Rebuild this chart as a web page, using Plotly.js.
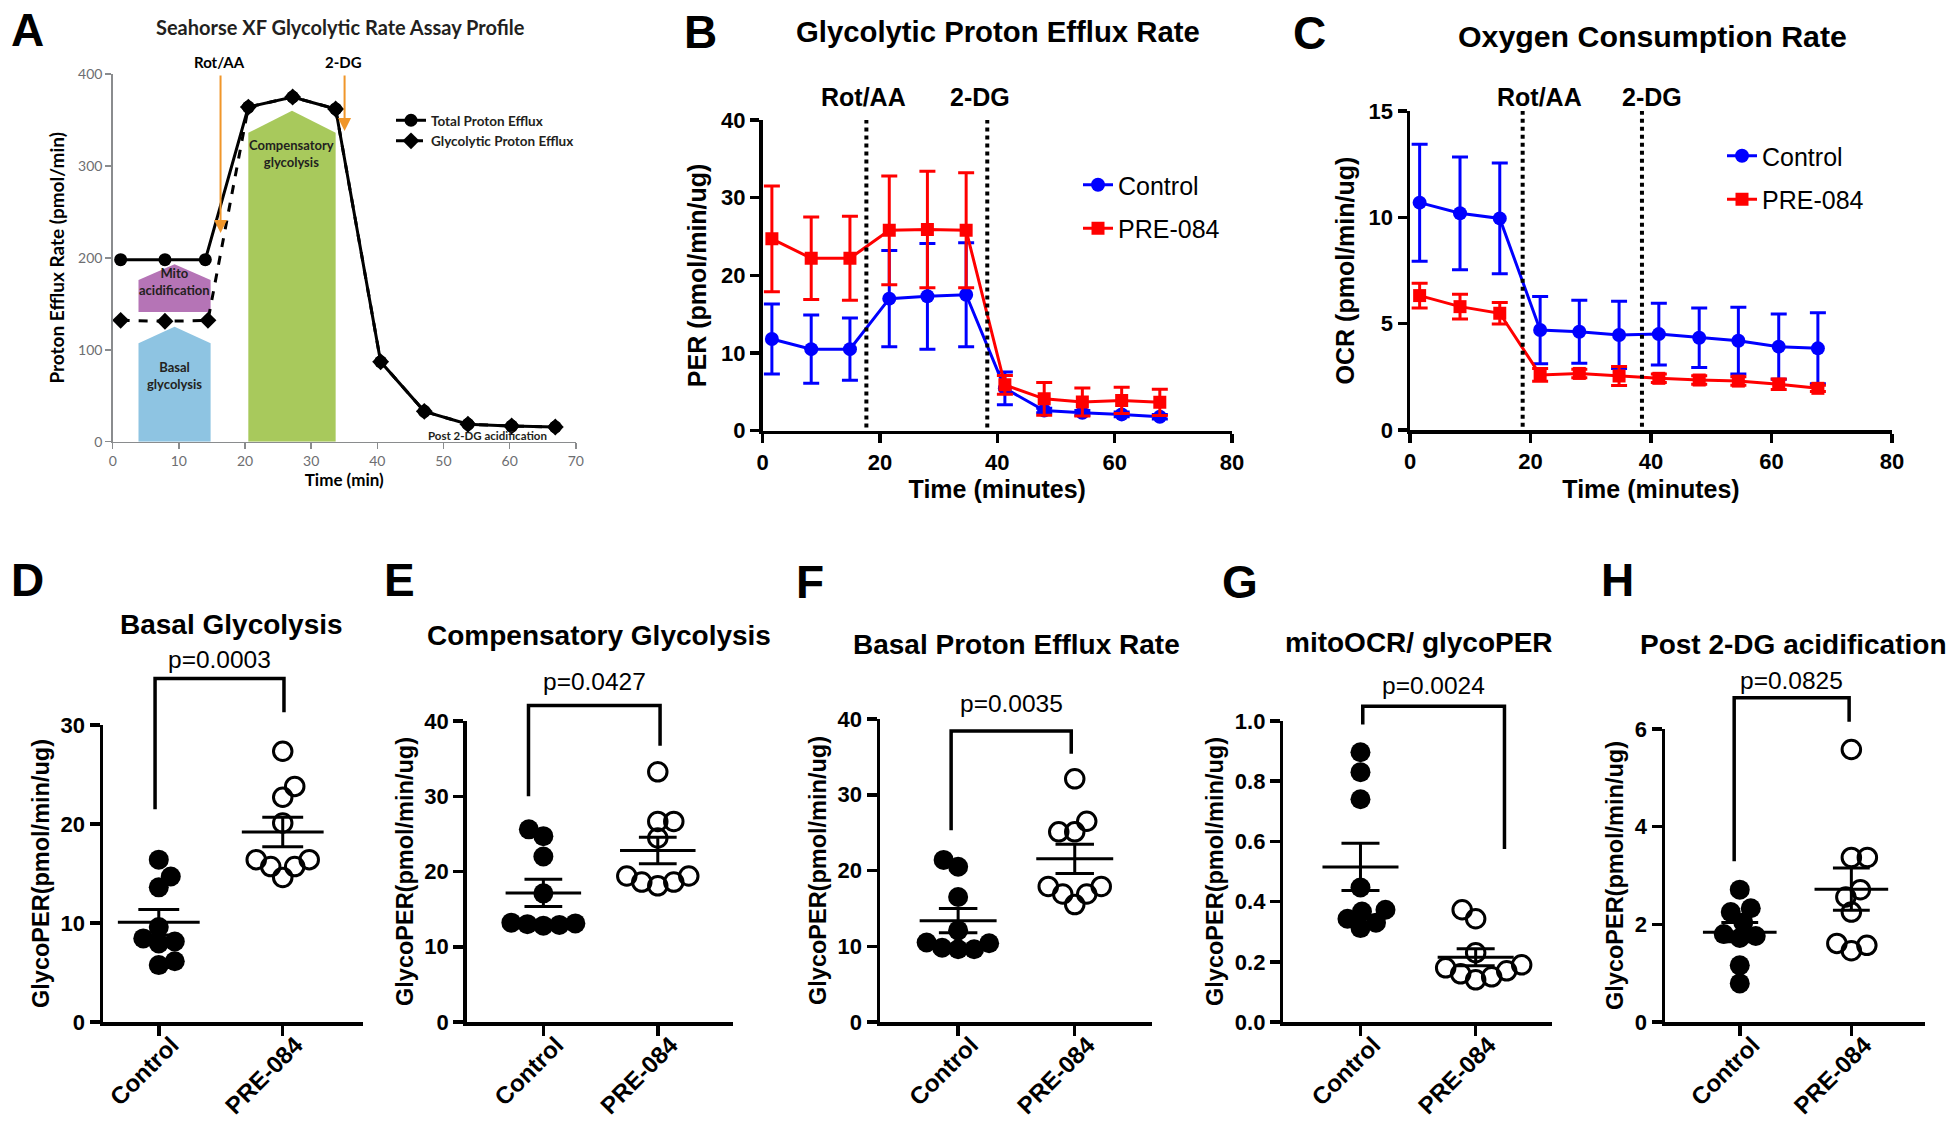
<!DOCTYPE html>
<html><head><meta charset="utf-8">
<script src="https://cdn.plot.ly/plotly-3.0.1.min.js"></script>
<style>html,body{margin:0;padding:0;background:#fff;}#chart{width:1950px;height:1126px;}</style>
</head><body><div id="chart"></div>
<script>
// ================= DATA =================
// Panel A – schematic assay profile
const aTime = [1.2, 7.9, 14.0, 20.5, 27.2, 33.7, 40.5, 47.1, 53.7, 60.3, 66.9];
const aTotal = [198, 198, 198, 364, 375, 362, 87, 33, 19, 17, 16];
const aGlycoTime = [1.2, 7.9, 14.4, 20.5, 27.2, 33.7, 40.5, 47.1, 53.7, 60.3, 66.9];
const aGlyco = [132, 131, 132, 364, 375, 362, 87, 33, 19, 17, 16];
const aSeriesNames = ['Total Proton Efflux', 'Glycolytic Proton Efflux'];
const injectionLabels = ['Rot/AA', '2-DG'];
const aInjectionTimes = [16.3, 35.05];
const aRegionNames = ['Mito<br>acidification', 'Basal<br>glycolysis', 'Compensatory<br>glycolysis'];
const aRegionStart = [3.9, 3.9, 20.5];
const aRegionEnd = [14.8, 14.8, 33.7];
const aRegionBase = [141, 0, 0];
const aRegionShoulder = [176, 107, 336];
const aRegionPeak = [193, 125, 360];
const aPostLabel = 'Post 2-DG acidification';

// Panels B & C – time courses
const groupNames = ['Control', 'PRE-084'];
const timeMin = [1.6, 8.3, 14.9, 21.6, 28.1, 34.7, 41.3, 48.0, 54.5, 61.2, 67.7];
const perControl = [11.8, 10.5, 10.5, 17.0, 17.3, 17.5, 5.45, 2.6, 2.3, 2.1, 1.8];
const perControlErr = [4.5, 4.4, 4.0, 6.2, 6.8, 6.7, 2.1, 0.3, 0.3, 0.3, 0.3];
const perPre = [24.7, 22.2, 22.2, 25.8, 25.9, 25.8, 5.9, 4.1, 3.7, 3.9, 3.65];
const perPreErr = [6.8, 5.3, 5.4, 7.0, 7.5, 7.4, 1.2, 2.1, 1.8, 1.7, 1.7];
const ocrControl = [10.69, 10.19, 9.95, 4.70, 4.62, 4.47, 4.51, 4.34, 4.20, 3.92, 3.84];
const ocrControlErr = [2.75, 2.65, 2.6, 1.58, 1.48, 1.58, 1.45, 1.4, 1.57, 1.53, 1.67];
const ocrPre = [6.32, 5.80, 5.49, 2.59, 2.66, 2.54, 2.43, 2.35, 2.30, 2.15, 1.96];
const ocrPreErr = [0.58, 0.58, 0.5, 0.3, 0.2, 0.45, 0.2, 0.2, 0.2, 0.25, 0.15];
const perInjectionTimes = [17.7, 38.3];
const ocrInjectionTimes = [18.7, 38.5];

// Panels D–H – individual values
const basalGlycoControl = [16.4, 14.7, 13.6, 9.6, 8.44, 8.13, 7.94, 6.14, 5.75];
const basalGlycoPre = [27.35, 23.8, 22.7, 20.1, 16.4, 16.4, 15.7, 15.7, 14.6];
const compGlycoControl = [25.6, 24.7, 22.0, 17.1, 13.2, 13.0, 12.9, 13.1, 12.8];
const compGlycoPre = [33.25, 26.65, 26.65, 24.45, 19.4, 19.4, 18.6, 18.1, 18.6];
const basalPerControl = [21.4, 20.5, 16.5, 12.1, 10.5, 10.4, 9.6, 9.6, 9.8];
const basalPerPre = [32.1, 26.5, 25.1, 25.1, 17.9, 17.9, 16.9, 16.9, 15.5];
const ratioControl = [0.896, 0.83, 0.74, 0.447, 0.373, 0.367, 0.343, 0.33, 0.312];
const ratioPre = [0.373, 0.343, 0.23, 0.19, 0.18, 0.17, 0.16, 0.15, 0.14];
const post2dgControl = [2.71, 2.33, 2.25, 2.04, 1.8, 1.76, 1.72, 1.16, 0.79];
const post2dgPre = [5.58, 3.37, 3.37, 2.71, 2.56, 2.25, 1.61, 1.57, 1.46];
const scatterTitles = ['Basal Glycolysis', 'Compensatory Glycolysis', 'Basal Proton Efflux Rate', 'mitoOCR/ glycoPER', 'Post 2-DG acidification'];
const pValues = ['p=0.0003', 'p=0.0427', 'p=0.0035', 'p=0.0024', 'p=0.0825'];
const panelLetters = ['A', 'B', 'C', 'D', 'E', 'F', 'G', 'H'];

// ================= LAYOUT HELPERS =================
const W = 1950, H = 1126;
const FONT = 'Liberation Sans, Arial, Helvetica, sans-serif';
const AFONT = 'Lato, Open Sans, sans-serif';
const BLUE = '#0000ff', RED = '#ff0000', ORANGE = '#f0962a';
const px = v => v / W, py = v => 1 - v / H;
const dom = g => ({x: [px(g.l), px(g.r)], y: [py(g.b), py(g.t)]});
function label(x, y, text, font, extra) {
  return Object.assign({xref: 'paper', yref: 'paper', x: px(x), y: py(y), text: text, showarrow: false,
    xanchor: 'center', yanchor: 'middle', font: font}, extra || {});
}

const geoA = {l: 112.7, r: 575.8, t: 74, b: 441.7};
const geoB = {l: 762.5, r: 1232, t: 120, b: 430.7};
const geoC = {l: 1410, r: 1892, t: 111, b: 430};

const traces = [];
const shapes = [];
const annotations = [];
const layout = {
  width: W, height: H, margin: {l: 0, r: 0, t: 0, b: 0},
  paper_bgcolor: '#fff', plot_bgcolor: 'rgba(0,0,0,0)',
  font: {family: FONT, color: '#000'},
  showlegend: true, hovermode: false
};

// ---------- Panel A ----------
const dA = dom(geoA);
const grayAx = {showline: true, linecolor: '#8a8c8e', linewidth: 1.5, ticks: 'outside', ticklen: 6, tickwidth: 1.5,
  tickcolor: '#8a8c8e', showgrid: false, zeroline: false, fixedrange: true,
  tickfont: {family: AFONT, size: 14, color: '#6d6e71'}};
layout.xaxis = Object.assign({}, grayAx, {domain: dA.x, range: [0, 70], dtick: 10, tick0: 0, anchor: 'y',
  title: {text: 'Time (min)', font: {family: AFONT, size: 17, weight: 'bold'}, standoff: 3}});
layout.yaxis = Object.assign({}, grayAx, {domain: dA.y, range: [0, 400], dtick: 100, tick0: 0, anchor: 'x',
  title: {text: 'Proton Efflux Rate (pmol/min)', font: {family: AFONT, size: 19, weight: 'bold'}, standoff: 8}});

const regionColors = ['#b574b6', '#8ec4e2', '#a8c95c'];
const regionLabelY = [174, 72, 314];
aRegionNames.forEach((name, i) => {
  const x0 = aRegionStart[i], x1 = aRegionEnd[i], xm = (x0 + x1) / 2;
  shapes.push({type: 'path', xref: 'x', yref: 'y', layer: 'below', line: {width: 0}, fillcolor: regionColors[i],
    path: `M${x0},${aRegionBase[i]} L${x0},${aRegionShoulder[i]} L${xm},${aRegionPeak[i]} L${x1},${aRegionShoulder[i]} L${x1},${aRegionBase[i]} Z`});
  annotations.push({xref: 'x', yref: 'y', x: xm, y: regionLabelY[i], text: name, showarrow: false, xanchor: 'center', yanchor: 'middle',
    font: {family: AFONT, size: 13, color: '#231f20', weight: 'bold'}, align: 'center'});
});
traces.push({type: 'scatter', mode: 'lines+markers', x: aGlycoTime, y: aGlyco, xaxis: 'x', yaxis: 'y',
  name: aSeriesNames[1], legend: 'legend', legendgroup: 'a2', legendrank: 2,
  line: {color: '#000', width: 3, dash: 'dash'}, marker: {symbol: 'diamond', size: 13, color: '#000'}});
traces.push({type: 'scatter', mode: 'lines+markers', x: aTime, y: aTotal, xaxis: 'x', yaxis: 'y',
  name: aSeriesNames[0], legend: 'legend', legendgroup: 'a1', legendrank: 1,
  line: {color: '#000', width: 3}, marker: {symbol: 'circle', size: 13, color: '#000'}});
const aArrowHeads = [227, 338];
injectionLabels.forEach((lab, i) => {
  annotations.push({xref: 'x', yref: 'y', axref: 'x', ayref: 'y', x: aInjectionTimes[i], y: aArrowHeads[i],
    ax: aInjectionTimes[i], ay: 400, text: '', showarrow: true, arrowhead: 2, arrowsize: 1.3, arrowwidth: 2, arrowcolor: ORANGE});
  annotations.push({xref: 'x', yref: 'paper', x: aInjectionTimes[i] - 0.1, y: py(62), text: lab, showarrow: false,
    xanchor: 'center', yanchor: 'middle', font: {family: AFONT, size: 15, weight: 'bold'}});
});
annotations.push({xref: 'x', yref: 'y', x: 56.6, y: 7, text: aPostLabel, showarrow: false, xanchor: 'center', yanchor: 'middle',
  font: {family: AFONT, size: 11.5, weight: 'bold', color: '#231f20'}});
annotations.push(label(340, 27, 'Seahorse XF Glycolytic Rate Assay Profile', {family: AFONT, size: 20, weight: 'bold', color: '#231f20'}));
layout.legend = {x: px(391), y: py(105), xanchor: 'left', yanchor: 'top', bgcolor: 'rgba(0,0,0,0)',
  font: {family: AFONT, size: 13.5, weight: 'bold', color: '#231f20'}, tracegroupgap: 0, itemwidth: 30};

// ---------- Panels B & C ----------
function timeCourse(n, geo, ymax, dtick, yTitle, ctrl, ctrlErr, pre, preErr, injTimes, labX, legendName, legendPos) {
  const d = dom(geo);
  const common = {showline: true, linecolor: '#000', linewidth: 3.5, ticks: 'outside', ticklen: 9, tickwidth: 3.5,
    tickcolor: '#000', showgrid: false, zeroline: false, fixedrange: true,
    tickfont: {family: FONT, size: 22, weight: 'bold'}};
  layout['xaxis' + n] = Object.assign({}, common, {domain: d.x, range: [0, 80], dtick: 20, tick0: 0, anchor: 'y' + n,
    title: {text: 'Time (minutes)', font: {family: FONT, size: 25, weight: 'bold'}, standoff: 8}});
  layout['yaxis' + n] = Object.assign({}, common, {domain: d.y, range: [0, ymax], dtick: dtick, tick0: 0, anchor: 'x' + n,
    title: {text: yTitle, font: {family: FONT, size: 25, weight: 'bold'}, standoff: 8}});
  injTimes.forEach(t => shapes.push({type: 'line', xref: 'x' + n, yref: 'y' + n, x0: t, x1: t, y0: ymax * 0.01, y1: ymax,
    line: {color: '#000', width: 4, dash: 'dot'}}));
  injectionLabels.forEach((lab, i) => annotations.push({xref: 'x' + n, yref: 'paper', x: labX[i], y: py(97), text: lab,
    showarrow: false, xanchor: 'center', yanchor: 'middle', font: {family: FONT, size: 25, weight: 'bold'}}));
  traces.push({type: 'scatter', mode: 'lines+markers', x: timeMin, y: ctrl, xaxis: 'x' + n, yaxis: 'y' + n,
    name: groupNames[0], legend: legendName, legendgroup: legendName + 'c',
    line: {color: BLUE, width: 3}, marker: {symbol: 'circle', size: 14, color: BLUE},
    error_y: {type: 'data', array: ctrlErr, visible: true, color: BLUE, thickness: 3, width: 8}});
  traces.push({type: 'scatter', mode: 'lines+markers', x: timeMin, y: pre, xaxis: 'x' + n, yaxis: 'y' + n,
    name: groupNames[1], legend: legendName, legendgroup: legendName + 'p',
    line: {color: RED, width: 3}, marker: {symbol: 'square', size: 13, color: RED},
    error_y: {type: 'data', array: preErr, visible: true, color: RED, thickness: 3, width: 8}});
  layout[legendName] = {x: px(legendPos[0]), y: py(legendPos[1]), xanchor: 'left', yanchor: 'top',
    bgcolor: 'rgba(0,0,0,0)', font: {family: FONT, size: 25}, tracegroupgap: 8, itemwidth: 30};
}
timeCourse(2, geoB, 40, 10, 'PER (pmol/min/ug)', perControl, perControlErr, perPre, perPreErr,
  perInjectionTimes, [17.2, 37.1], 'legend2', [1078, 162]);
timeCourse(3, geoC, 15, 5, 'OCR (pmol/min/ug)', ocrControl, ocrControlErr, ocrPre, ocrPreErr,
  ocrInjectionTimes, [21.5, 40.1], 'legend3', [1722, 133]);
annotations.push(label(998, 31, 'Glycolytic Proton Efflux Rate', {family: FONT, size: 29.3, weight: 'bold'}));
annotations.push(label(1652, 36, 'Oxygen Consumption Rate', {family: FONT, size: 30.3, weight: 'bold'}));

// ---------- Panels D–H ----------
function meanSem(v) {
  const n = v.length, m = v.reduce((a, b) => a + b, 0) / n;
  const sd = Math.sqrt(v.reduce((a, b) => a + (b - m) * (b - m), 0) / (n - 1));
  return [m, sd / Math.sqrt(n)];
}
// simple beeswarm: place points (lowest first) at the nearest free horizontal offset
function swarm(values, pyu, pxu, colW, rowH) {
  const idx = values.map((v, i) => i).sort((a, b) => values[a] - values[b]);
  const placed = [], off = new Array(values.length).fill(0);
  idx.forEach((i, k) => {
    const y = values[i] * pyu;
    let best = null;
    for (let s = 0; s <= 300 && best === null; s += 0.5) {
      for (const sg of (k % 2 ? [1, -1] : [-1, 1])) {
        const x = s * sg;
        if (placed.every(p => ((p.x - x) / colW) ** 2 + ((p.y - y) / rowH) ** 2 >= 1)) { best = x; break; }
      }
    }
    placed.push({x: best, y: y});
    off[i] = best / pxu;
  });
  return off;
}
const scatterPanels = [
  {ctrl: basalGlycoControl, pre: basalGlycoPre, ymax: 30, dtick: 10, fmt: 'd', geo: {l: 103, r: 363.3, t: 725, b: 1022},
   xr: [-0.45, 1.65], br: {xl: -0.03, xr: 1.01, yl: 21.5, top: 34.7, yr: 31.3, pt: 36.6}, title: [231, 624], letter: [27, 580]},
  {ctrl: compGlycoControl, pre: compGlycoPre, ymax: 40, dtick: 10, fmt: 'd', geo: {l: 466.7, r: 733.3, t: 721, b: 1022},
   xr: [-0.67, 1.66], br: {xl: -0.13, xr: 1.02, yl: 30.0, top: 42.05, yr: 36.7, pt: 45.3}, title: [599, 635], letter: [399, 580]},
  {ctrl: basalPerControl, pre: basalPerPre, ymax: 40, dtick: 10, fmt: 'd', geo: {l: 880, r: 1151.7, t: 719, b: 1022},
   xr: [-0.67, 1.66], br: {xl: -0.06, xr: 0.97, yl: 25.3, top: 38.4, yr: 35.4, pt: 42.0}, title: [1017, 644], letter: [810, 582]},
  {ctrl: ratioControl, pre: ratioPre, ymax: 1.0, dtick: 0.2, fmt: '.1f', geo: {l: 1283.3, r: 1551.7, t: 721, b: 1022},
   xr: [-0.67, 1.66], br: {xl: 0.02, xr: 1.25, yl: 0.988, top: 1.049, yr: 0.575, pt: 1.118}, title: [1419, 642], letter: [1240, 582]},
  {ctrl: post2dgControl, pre: post2dgPre, ymax: 6, dtick: 2, fmt: 'd', geo: {l: 1665, r: 1925, t: 729, b: 1022},
   xr: [-0.67, 1.66], br: {xl: -0.05, xr: 0.98, yl: 3.29, top: 6.64, yr: 6.15, pt: 7.0}, title: [1793, 644], letter: [1617, 580]}
];
scatterPanels.forEach((P, k) => {
  const n = 4 + k, m = 9 + k, g = P.geo, d = dom(g);
  const common = {showline: true, linecolor: '#000', linewidth: 3.5, ticks: 'outside', ticklen: 10, tickwidth: 3.5,
    tickcolor: '#000', showgrid: false, zeroline: false, fixedrange: true,
    tickfont: {family: FONT, size: 22, weight: 'bold'}};
  layout['xaxis' + n] = Object.assign({}, common, {domain: d.x, range: P.xr, anchor: 'y' + n,
    tickvals: [0, 1], ticktext: groupNames, tickangle: -45, ticklabelshift: 13, ticklabelstandoff: -14,
    tickfont: {family: FONT, size: 24, weight: 'bold'}});
  layout['yaxis' + n] = Object.assign({}, common, {domain: d.y, range: [0, P.ymax], dtick: P.dtick, tick0: 0,
    tickformat: P.fmt, anchor: 'x' + n,
    title: {text: 'GlycoPER(pmol/min/ug)', font: {family: FONT, size: 23.5, weight: 'bold'}, standoff: 5}});
  const extTop = g.t - 120;
  layout['yaxis' + m] = {domain: [py(g.b), py(extTop)], range: [0, P.ymax * (g.b - extTop) / (g.b - g.t)],
    visible: false, anchor: 'x' + n, fixedrange: true, showgrid: false, zeroline: false};
  const pyu = (g.b - g.t) / P.ymax, pxu = (g.r - g.l) / (P.xr[1] - P.xr[0]);
  const oc = swarm(P.ctrl, pyu, pxu, 16, 16), op = swarm(P.pre, pyu, pxu, 16, 16);
  traces.push({type: 'scatter', mode: 'markers', x: P.ctrl.map((v, i) => 0 + oc[i]), y: P.ctrl,
    xaxis: 'x' + n, yaxis: 'y' + n, showlegend: false, cliponaxis: false,
    marker: {symbol: 'circle', size: 20, color: '#000', line: {width: 0}}});
  traces.push({type: 'scatter', mode: 'markers', x: P.pre.map((v, i) => 1 + op[i]), y: P.pre,
    xaxis: 'x' + n, yaxis: 'y' + n, showlegend: false, cliponaxis: false,
    marker: {symbol: 'circle-open', size: 18.5, color: '#000', line: {width: 3, color: '#000'}}});
  const lx = [], ly = [];
  [P.ctrl, P.pre].forEach((vals, c) => {
    const [mn, se] = meanSem(vals);
    lx.push(c - 0.33, c + 0.33, null, c, c, null, c - 0.165, c + 0.165, null, c - 0.165, c + 0.165, null);
    ly.push(mn, mn, null, mn - se, mn + se, null, mn + se, mn + se, null, mn - se, mn - se, null);
  });
  traces.push({type: 'scatter', mode: 'lines', x: lx, y: ly, xaxis: 'x' + n, yaxis: 'y' + n, showlegend: false,
    line: {color: '#000', width: 3}});
  const b = P.br;
  traces.push({type: 'scatter', mode: 'lines', x: [b.xl, b.xl, b.xr, b.xr], y: [b.yl, b.top, b.top, b.yr],
    xaxis: 'x' + n, yaxis: 'y' + m, showlegend: false, line: {color: '#000', width: 3.5}});
  annotations.push({xref: 'x' + n, yref: 'y' + m, x: (b.xl + b.xr) / 2, y: b.pt, text: pValues[k], showarrow: false,
    xanchor: 'center', yanchor: 'middle', font: {family: FONT, size: 24.5}});
  annotations.push(label(P.title[0], P.title[1], scatterTitles[k], {family: FONT, size: 28, weight: 'bold'}));
  annotations.push(label(P.letter[0], P.letter[1], panelLetters[3 + k], {family: FONT, size: 46, weight: 'bold'}));
});
[[27, 30], [700, 32], [1309, 33]].forEach((p, i) =>
  annotations.push(label(p[0], p[1], panelLetters[i], {family: FONT, size: 46, weight: 'bold'})));

layout.shapes = shapes;
layout.annotations = annotations;
Plotly.newPlot('chart', traces, layout, {staticPlot: true, displayModeBar: false});
</script></body></html>
